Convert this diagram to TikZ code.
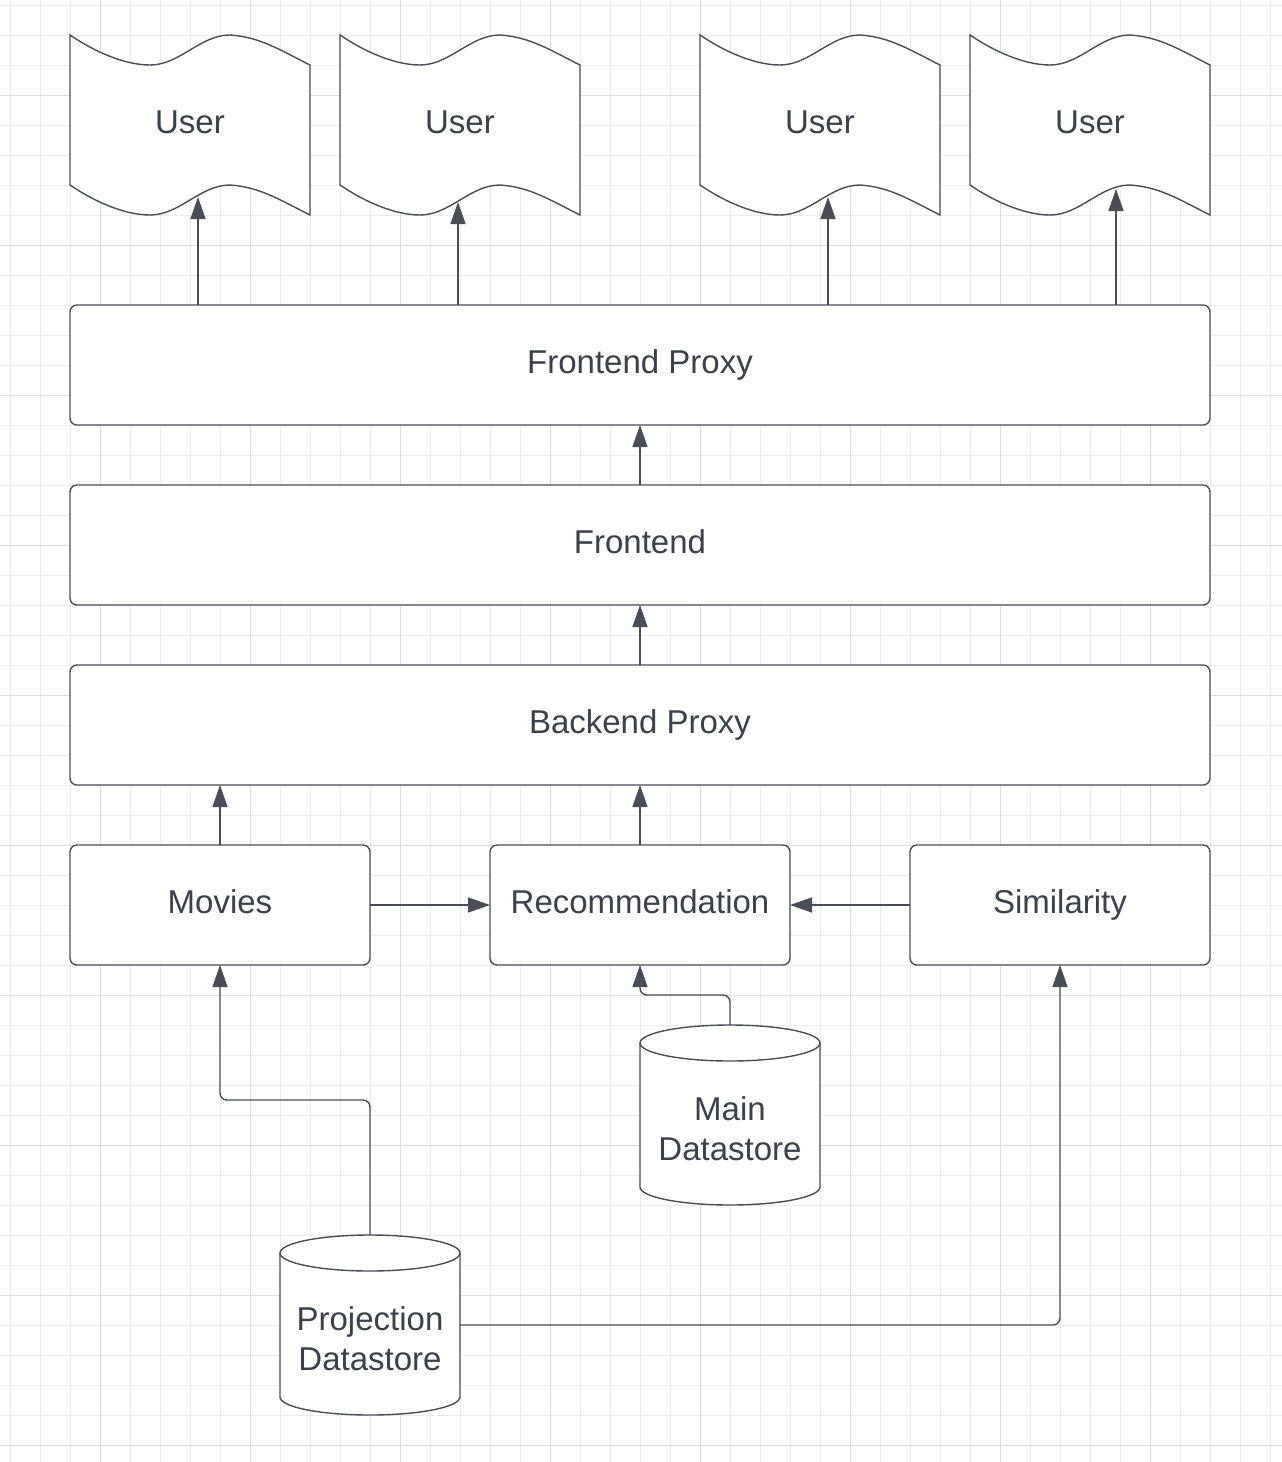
\documentclass[tikz,border=0pt]{standalone}
\usepackage{fontspec}
\setmainfont{Liberation Sans}
\usetikzlibrary{arrows.meta}
\definecolor{ln}{RGB}{73,78,86}
\definecolor{tx}{RGB}{58,65,74}
\definecolor{gminor}{RGB}{236,236,236}
\definecolor{gmajor}{RGB}{222,222,222}
\begin{document}
\begin{tikzpicture}[x=1pt,y=-1pt,
  shp/.style={draw=ln,line width=1.4pt,fill=white},
  box/.style={shp,rounded corners=7pt,inner sep=0pt,outer sep=0pt,text=tx,
    font=\fontsize{33}{40}\selectfont,text height=24pt,text depth=8pt},
  ghost/.style={inner sep=0pt,outer sep=0pt},
  lbl/.style={inner sep=0pt,outer sep=0pt,text=tx,font=\fontsize{33}{40}\selectfont},
  arr/.style={draw=ln,line width=1.4pt,-{Triangle[length=22pt,width=15pt]},rounded corners=7pt}]
\useasboundingbox (0,0) rectangle (1282,1462);
\fill[white] (0,0) rectangle (1282,1462);
% grid
\foreach \x in {10,40,...,1280} \draw[gminor,line width=1pt] (\x,0) -- (\x,1462);
\foreach \y in {5,35,...,1460} \draw[gminor,line width=1pt] (0,\y) -- (1282,\y);
\foreach \x in {100,250,...,1280} \draw[gmajor,line width=1pt] (\x,0) -- (\x,1462);
\foreach \y in {95,245,...,1460} \draw[gmajor,line width=1pt] (0,\y) -- (1282,\y);
% users
\foreach \x/\n in {70/1,340/2,700/3,970/4}{
  \draw[shp,shift={(\x,35)}] (0,0) .. controls (25,17) and (55,30) .. (80,30)
    .. controls (110,30) and (130,0) .. (160,0)
    .. controls (190,2) and (210,15) .. (240,30) -- (240,180)
    .. controls (210,165) and (190,152) .. (160,150)
    .. controls (130,150) and (110,180) .. (80,180)
    .. controls (55,180) and (25,167) .. (0,150) -- cycle;
  \node[lbl,text height=24pt,text depth=8pt] (u\n) at (\x+120,125) {User};
}
\coordinate (u1tip) at (198,197);
\coordinate (u2tip) at (458,202);
\coordinate (u3tip) at (828,197);
\coordinate (u4tip) at (1116,189);
% boxes
\node[box,minimum width=1140pt,minimum height=120pt] (fp) at (640,365) {Frontend Proxy};
\node[box,minimum width=1140pt,minimum height=120pt] (fe) at (640,545) {Frontend};
\node[box,minimum width=1140pt,minimum height=120pt] (bp) at (640,725) {Backend Proxy};
\node[box,minimum width=300pt,minimum height=120pt] (mov) at (220,905) {Movies};
\node[box,minimum width=300pt,minimum height=120pt] (rec) at (640,905) {Recommendation};
\node[box,minimum width=300pt,minimum height=120pt] (sim) at (1060,905) {Similarity};
% cylinders
\draw[shp] (640,1043) -- (640,1187) arc[start angle=180,end angle=360,x radius=90pt,y radius=18pt]
  -- (820,1043) arc[start angle=0,end angle=180,x radius=90pt,y radius=18pt] -- cycle;
\draw[shp,fill=none] (640,1043) arc[start angle=180,end angle=360,x radius=90pt,y radius=18pt];
\node[ghost,minimum width=180pt,minimum height=180pt] (md) at (730,1115) {};
\node[lbl,align=center] (mdl) at (730,1128.5) {Main\\Datastore};
\draw[shp] (280,1253) -- (280,1397) arc[start angle=180,end angle=360,x radius=90pt,y radius=18pt]
  -- (460,1253) arc[start angle=0,end angle=180,x radius=90pt,y radius=18pt] -- cycle;
\draw[shp,fill=none] (280,1253) arc[start angle=180,end angle=360,x radius=90pt,y radius=18pt];
\node[ghost,minimum width=180pt,minimum height=180pt] (pd) at (370,1325) {};
\node[lbl,align=center] (pdl) at (370,1338.5) {Projection\\Datastore};
% connectors
\foreach \n in {1,2,3,4} \draw[arr] (fp.north -| u\n tip) -- (u\n tip);
\draw[arr] (fe.north) -- (fp.south);
\draw[arr] (bp.north) -- (fe.south);
\draw[arr] (mov.north) -- (mov.north |- bp.south);
\draw[arr] (rec.north) -- (bp.south);
\draw[arr] (mov.east) -- (rec.west);
\draw[arr] (sim.west) -- (rec.east);
\draw[arr] (md.north) -- ++(0,-30) -| (rec.south);
\draw[arr] (pd.north) -- (370,1100) -| (mov.south);
\draw[arr] (pd.east) -| (sim.south);
\end{tikzpicture}
\end{document}
